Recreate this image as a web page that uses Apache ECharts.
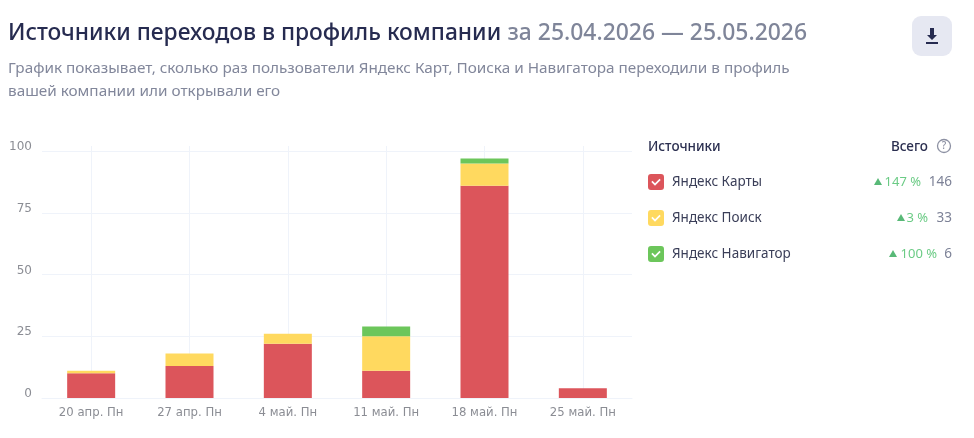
<!DOCTYPE html>
<html><head><meta charset="utf-8">
<style>html,body{margin:0;padding:0;background:#fff}#c{width:974px;height:438px}</style>
<script src="https://cdn.jsdelivr.net/npm/echarts@6/dist/echarts.min.js"></script>
</head><body><div id="c"></div>
<script>
const categories = ['20 апр. Пн','27 апр. Пн','4 май. Пн','11 май. Пн','18 май. Пн','25 май. Пн'];
const mapsValues = [10,13,22,11,86,4];
const searchValues = [1,5,4,14,9,0];
const navigatorValues = [0,0,0,4,2,0];
const seriesNames = ['Яндекс Карты','Яндекс Поиск','Яндекс Навигатор'];
const seriesColors = ['#dc555b','#ffd95f','#6cc65b'];
const percents = ['147 %','3 %','100 %'];
const totals = ['146','33','6'];
const titleMain = 'Источники переходов в профиль компании';
const titlePeriod = 'за 25.04.2026 — 25.05.2026';
const subtitleLines = ['График показывает, сколько раз пользователи Яндекс Карт, Поиска и Навигатора переходили в профиль','вашей компании или открывали его'];

const FONT = '"Noto Sans", sans-serif';
const checkIcon = 'path://M3 0H13A3 3 0 0 1 16 3V13A3 3 0 0 1 13 16H3A3 3 0 0 1 0 13V3A3 3 0 0 1 3 0ZM3.3 8L7 11.7L12.7 6L11.5 4.8L7 9.3L4.5 6.8Z';
const gridColor = '#eff3fa';
const rowY = [182,218,254];
const pctRight = [921,928,937];
const triX = [878,901,893];

const graphic = [
 {type:'text',left:8,top:22,style:{text:'{a|'+titleMain+'} {b|'+titlePeriod+'}',rich:{
   a:{font:'500 22.8px '+FONT,fill:'#262b50'},b:{font:'500 22.9px '+FONT,fill:'#7f8599',padding:[0,0,0,3]}}}},
 {type:'text',left:8,top:61,style:{text:subtitleLines[0],font:'15.3px '+FONT,fill:'#82879b'}},
 {type:'text',left:8,top:84,style:{text:subtitleLines[1],font:'15.3px '+FONT,fill:'#82879b'}},
 {type:'rect',shape:{x:912,y:16,width:40,height:40,r:9},style:{fill:'#e6e8f2'}},
 {type:'polygon',shape:{points:[[930,28],[934,28],[934,35],[937,35],[932,40],[927,35],[930,35]]},style:{fill:'#262b50'}},
 {type:'rect',shape:{x:926,y:42,width:12,height:2},style:{fill:'#262b50'}},
 {type:'text',x:648,y:147,style:{text:'Источники',font:'500 13.5px '+FONT,fill:'#2b2f50',verticalAlign:'middle'}},
 {type:'text',x:928,y:147,style:{text:'Всего',font:'500 13.5px '+FONT,fill:'#2b2f50',align:'right',verticalAlign:'middle'}},
 {type:'circle',shape:{cx:944,cy:146,r:6.5},style:{fill:'none',stroke:'#8d91a3',lineWidth:1.3}},
 {type:'text',x:944,y:146,style:{text:'?',font:'500 10px '+FONT,fill:'#8d91a3',align:'center',verticalAlign:'middle'}}
];
rowY.forEach((y,i)=>{
 graphic.push({type:'polygon',shape:{points:[[triX[i]-4,y+3],[triX[i]+4,y+3],[triX[i],y-4]]},style:{fill:'#58b977'}});
 graphic.push({type:'text',x:pctRight[i],y:y,style:{text:percents[i],font:'13px '+FONT,fill:'#6bcb85',align:'right',verticalAlign:'middle'}});
 graphic.push({type:'text',x:952,y:y,style:{text:totals[i],font:'13.5px '+FONT,fill:'#7d8297',align:'right',verticalAlign:'middle'}});
});
const values = [mapsValues,searchValues,navigatorValues];
const chart = echarts.init(document.getElementById('c'),null,{renderer:'canvas'});
chart.setOption({
 animation:false,
 backgroundColor:'#fff',
 textStyle:{fontFamily:FONT},
 graphic,
 grid:{left:42,right:342,top:146,bottom:40,containLabel:false},
 legend:{orient:'vertical',left:648,top:174,itemWidth:16,itemHeight:16,itemGap:20,selectedMode:false,icon:checkIcon,
   padding:0,textStyle:{fontSize:13.5,color:'#3a3e58',padding:[0,0,0,3],fontFamily:FONT},data:seriesNames},
 xAxis:{type:'category',data:categories,
   axisLine:{show:true,lineStyle:{color:gridColor}},axisTick:{show:false},
   axisLabel:{margin:9,color:'#8b8d94',fontSize:11.7,fontFamily:'"DejaVu Sans"',interval:0},
   splitLine:{show:true,alignWithLabel:true,lineStyle:{color:gridColor}}},
 yAxis:{type:'value',min:0,max:102.1,interval:25,
   axisLine:{show:false},axisTick:{show:false},
   axisLabel:{showMaxLabel:false,color:'#8b8d94',fontSize:12,fontFamily:'"DejaVu Sans"',margin:10,verticalAlign:'bottom',lineHeight:8},
   splitLine:{show:true,showMaxLine:false,lineStyle:{color:gridColor}}},
 series:seriesNames.map((n,i)=>({name:n,type:'bar',stack:'total',barWidth:48,
   itemStyle:{color:seriesColors[i]},data:values[i],silent:true}))
});
</script></body></html>
